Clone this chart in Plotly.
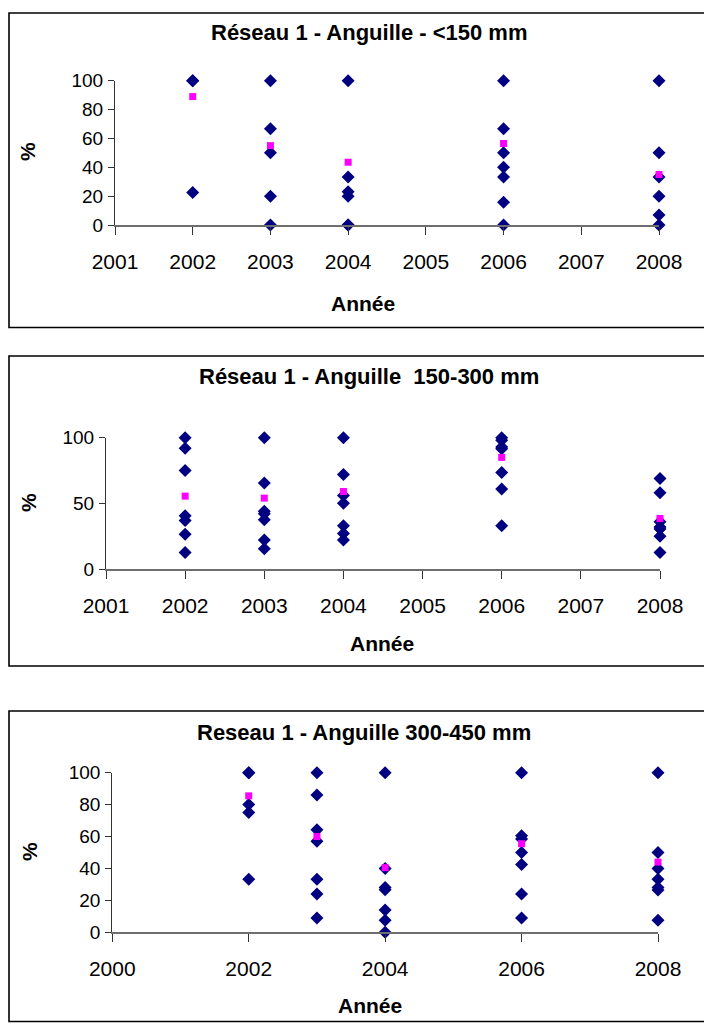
import plotly.graph_objects as go

# the page body has an 8px margin, so the figure is 8px smaller than the window
OFF = 8
W, H = 712 - OFF, 1023 - OFF

# --- Réseau 1 - Anguille - <150 mm
p1_obs_year = [2002, 2002, 2002,
               2003, 2003, 2003, 2003, 2003,
               2004, 2004, 2004, 2004, 2004, 2004,
               2006, 2006, 2006, 2006, 2006, 2006, 2006,
               2008, 2008, 2008, 2008, 2008, 2008]
p1_obs_pct = [100, 100, 22.5,
              100, 66.7, 50, 20, 0,
              100, 33.3, 23, 20, 0, 0,
              100, 66.7, 50, 40, 33.3, 15.8, 0,
              100, 50, 33.3, 20, 7, 0]
p1_mean_year = [2002, 2003, 2004, 2006, 2008]
p1_mean_pct = [89, 55, 43.5, 56.5, 35]

# --- Réseau 1 - Anguille 150-300 mm
p2_obs_year = [2002] * 7 + [2003] * 7 + [2004] * 7 + [2006] * 7 + [2008] * 7
p2_obs_pct = [100, 92, 75, 40.5, 37, 26.5, 12.5,
              100, 65.5, 44, 42, 37.5, 22, 15.5,
              100, 72, 56, 50, 33, 27, 22,
              100, 98, 93, 91.5, 73.5, 61, 33,
              69, 58, 36, 32, 30.5, 25, 12.5]
p2_mean_year = [2002, 2003, 2004, 2006, 2008]
p2_mean_pct = [55.5, 54, 59, 85, 38.5]

# --- Reseau 1 - Anguille 300-450 mm
p3_obs_year = [2002] * 5 + [2003] * 7 + [2004] * 7 + [2006] * 7 + [2008] * 7
p3_obs_pct = [100, 100, 80, 75, 33.3,
              100, 86, 64.3, 57.1, 33.3, 24, 9,
              100, 40, 28, 26.7, 14, 7.5, 0,
              100, 60.5, 58.5, 50, 42.5, 24, 9,
              100, 50, 40, 33.3, 28, 26.5, 7.5]
p3_mean_year = [2002, 2003, 2004, 2006, 2008]
p3_mean_pct = [85.5, 60, 40.5, 55.5, 44]

titles = ["Réseau 1 - Anguille - <150 mm",
          "Réseau 1 - Anguille  150-300 mm",
          "Reseau 1 - Anguille 300-450 mm"]

FONT = "Liberation Sans, Arial, sans-serif"


def px_x(x):
    # window pixel -> paper fraction
    return (x - OFF) / W


def px_y(y):
    return 1 - (y - OFF) / H


# pixel geometry (window coords) of each panel: frame, plot area, label spots
panels = [
    dict(frame=(9, 13, 1.03 * 712, 327.5), x0=115, x1=659, y0=225, y1=80.7,
         xr=[2001, 2008], dt=1, yt=20, title=(369, 33), xlab=(363, 303), ylab=(28, 152)),
    dict(frame=(9, 356, 1.03 * 712, 666), x0=106, x1=660, y0=569, y1=437.7,
         xr=[2001, 2008], dt=1, yt=50, title=(369, 377), xlab=(382, 643), ylab=(29, 503)),
    dict(frame=(9, 711, 1.03 * 712, 1021.5), x0=112.3, x1=658, y0=932.3, y1=772.7,
         xr=[2000, 2008], dt=2, yt=20, title=(364, 732), xlab=(370, 1005), ylab=(29, 852)),
]

data = [
    (p1_obs_year, p1_obs_pct, p1_mean_year, p1_mean_pct),
    (p2_obs_year, p2_obs_pct, p2_mean_year, p2_mean_pct),
    (p3_obs_year, p3_obs_pct, p3_mean_year, p3_mean_pct),
]

fig = go.Figure()
layout = {}
shapes = []
annotations = []

for i, (p, (oy, op, my, mp), title) in enumerate(zip(panels, data, titles), start=1):
    sfx = "" if i == 1 else str(i)
    fig.add_trace(go.Scatter(
        x=oy, y=op, mode="markers", xaxis="x" + sfx, yaxis="y" + sfx,
        marker=dict(symbol="diamond", size=10, color="#000080"),
        cliponaxis=False, showlegend=False))
    fig.add_trace(go.Scatter(
        x=my, y=mp, mode="markers", xaxis="x" + sfx, yaxis="y" + sfx,
        marker=dict(symbol="square", size=7, color="#FF00FF"),
        cliponaxis=False, showlegend=False))

    layout["xaxis" + sfx] = dict(
        domain=[px_x(p["x0"]), px_x(p["x1"])], range=p["xr"], anchor="y" + sfx,
        tick0=p["xr"][0], dtick=p["dt"], showgrid=False, zeroline=False,
        showline=True, linecolor="#6e6e6e", linewidth=1.5,
        ticks="outside", ticklen=8, tickcolor="#333333", tickwidth=1.2,
        ticklabelstandoff=9, automargin=False,
        tickfont=dict(family=FONT, size=21, color="#000000"))
    layout["yaxis" + sfx] = dict(
        domain=[px_y(p["y0"]), px_y(p["y1"])], range=[0, 100], anchor="x" + sfx,
        tick0=0, dtick=p["yt"], showgrid=False, zeroline=False,
        showline=True, linecolor="#333333", linewidth=1.2,
        ticks="outside", ticklen=6, tickcolor="#333333", tickwidth=1.2,
        ticklabelstandoff=1, automargin=False,
        tickfont=dict(family=FONT, size=19, color="#000000"))

    fx0, fy0, fx1, fy1 = p["frame"]
    shapes.append(dict(type="rect", xref="paper", yref="paper",
                       x0=px_x(fx0), x1=px_x(fx1), y0=px_y(fy1), y1=px_y(fy0),
                       line=dict(color="#000000", width=1.6)))

    tx, ty = p["title"]
    annotations.append(dict(text="<b>%s</b>" % title, x=px_x(tx), y=px_y(ty),
                            xref="paper", yref="paper", showarrow=False,
                            xanchor="center", yanchor="middle",
                            font=dict(family=FONT, size=22, color="#000000")))
    lx, ly = p["xlab"]
    annotations.append(dict(text="<b>Année</b>", x=px_x(lx), y=px_y(ly),
                            xref="paper", yref="paper", showarrow=False,
                            xanchor="center", yanchor="middle",
                            font=dict(family=FONT, size=21, color="#000000")))
    vx, vy = p["ylab"]
    annotations.append(dict(text="<b>%</b>", x=px_x(vx), y=px_y(vy),
                            xref="paper", yref="paper", showarrow=False,
                            xanchor="center", yanchor="middle", textangle=-90,
                            font=dict(family=FONT, size=21, color="#000000")))

fig.update_layout(
    width=W, height=H,
    margin=dict(l=0, r=0, t=0, b=0, pad=0, autoexpand=False),
    paper_bgcolor="white", plot_bgcolor="white",
    shapes=shapes, annotations=annotations,
    **layout)

fig.write_html("out.html")
